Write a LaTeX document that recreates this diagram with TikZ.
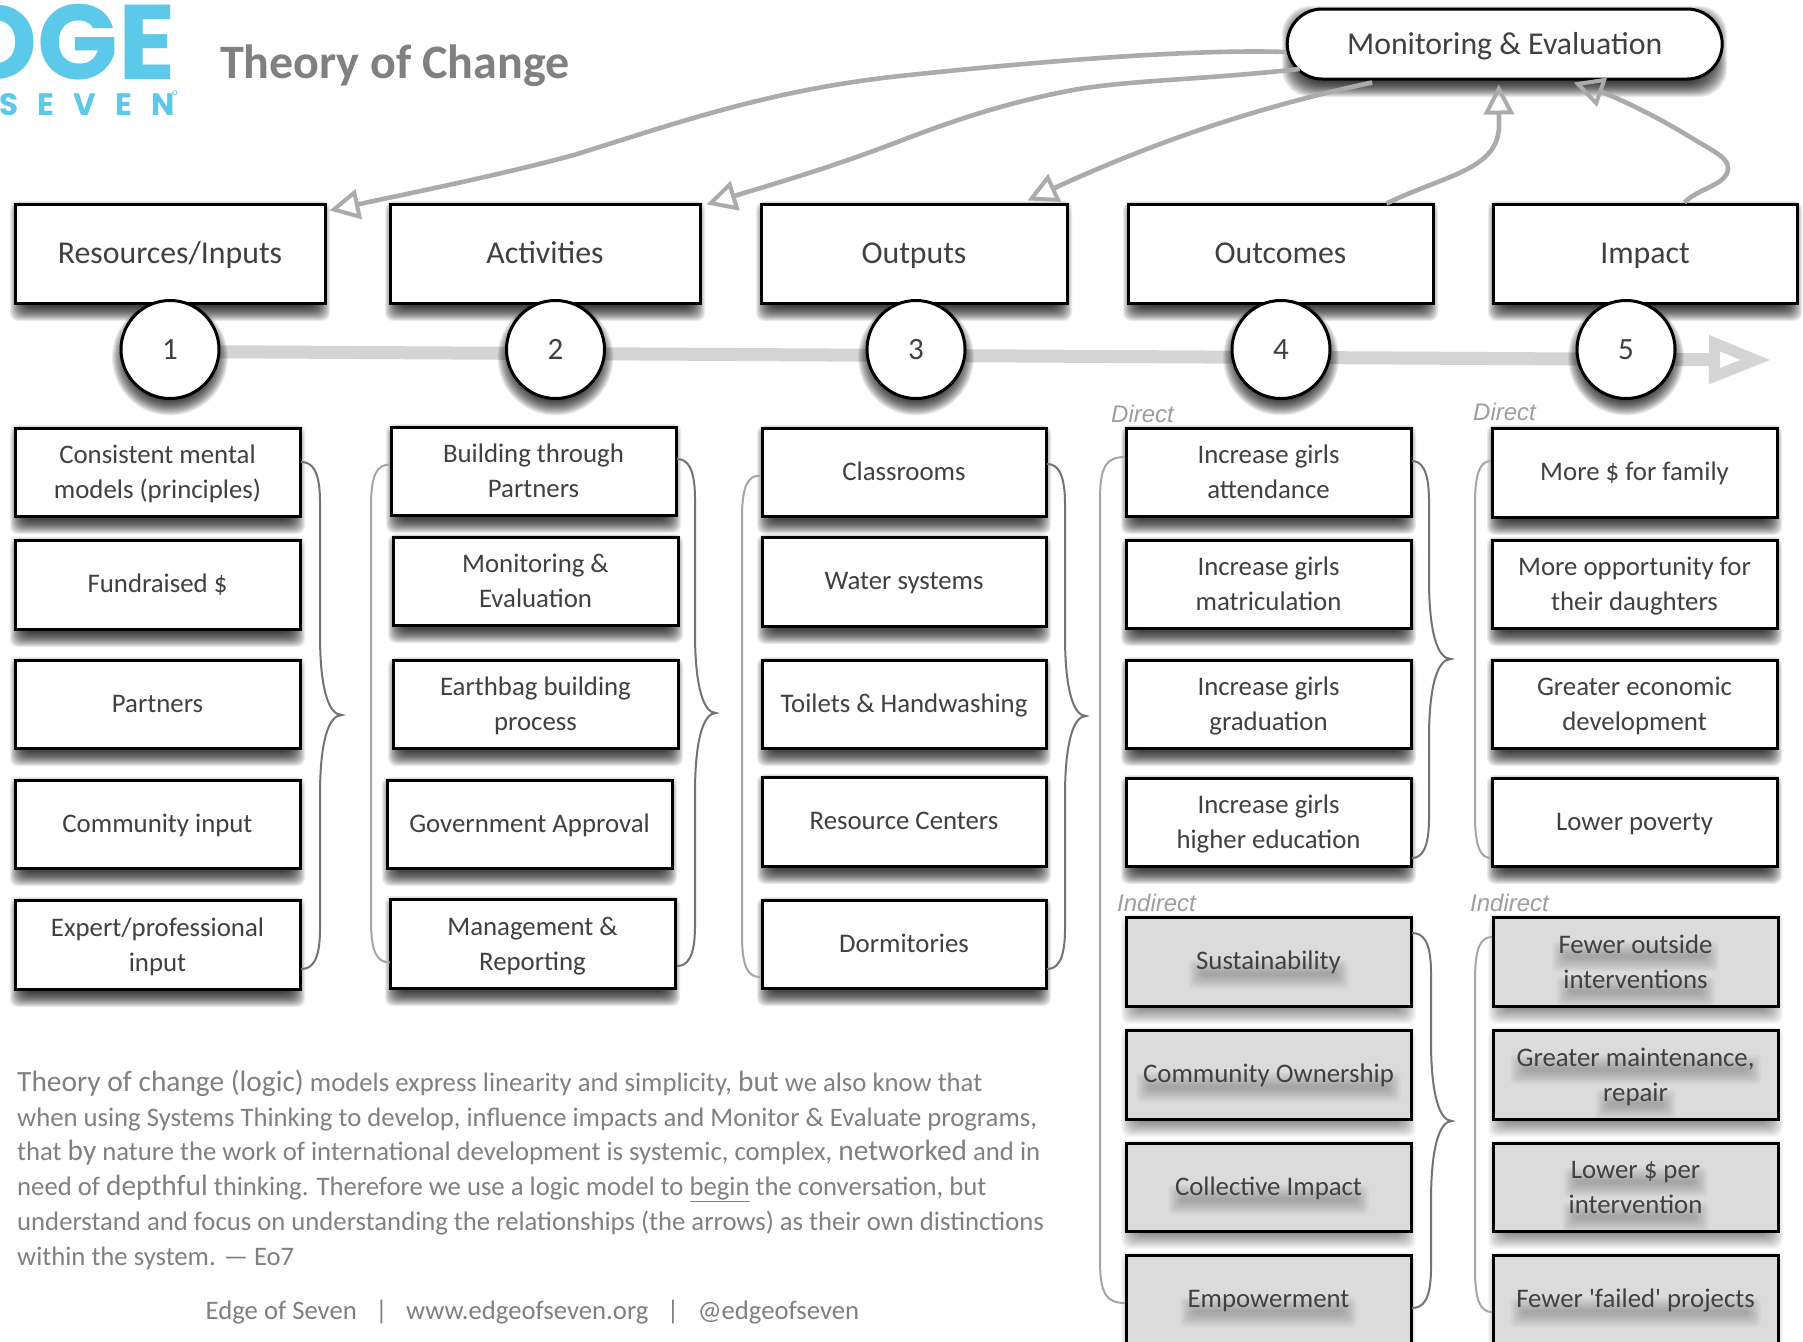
\documentclass[tikz,border=0pt]{standalone}
\usepackage{fontspec}
\setmainfont{Carlito}
\newfontfamily\plainq{Carlito}
\newfontfamily\logofont{Poppins}[Scale=1]
\newfontfamily\logospaced{Poppins}[LetterSpace=62]
\newfontfamily\helv{Liberation Sans}
\usetikzlibrary{calc,arrows.meta,shapes.misc}
\definecolor{inktext}{HTML}{404040}
\definecolor{parag}{HTML}{808080}
\definecolor{curvegray}{HTML}{ABABAB}
\definecolor{axisgray}{HTML}{D4D4D4}
\definecolor{cyanlogo}{HTML}{5CC9EA}
\newcommand{\strutA}{\rule[-10.4pt]{0pt}{37pt}}
\newcommand{\strutB}{\rule[-7pt]{0pt}{0pt}}
\newcommand{\strutT}{\rule[-9pt]{0pt}{38pt}}
\newcommand{\fl}{\rule{0pt}{28.4pt}}
\tikzset{
  x=1pt,y=-1pt,
  topbox/.style={draw=black,line width=3pt,fill=white,text=inktext,font=\fontsize{31.8}{35}\selectfont,align=center,inner sep=0pt,execute at begin node=\strutT},
  subbox/.style={draw=black,line width=3pt,fill=white,text=inktext,font=\fontsize{26.8}{35}\selectfont,align=center,inner sep=0pt,execute at begin node=\strutA,execute at end node=\strutB},
  graybox/.style={draw=black,line width=3pt,fill=black!14,inner sep=0pt},
  graytext/.style={text=inktext,font=\fontsize{26.8}{35}\selectfont,align=center,inner sep=0pt,execute at begin node=\strutA,execute at end node=\strutB},
  numcircle/.style={circle,draw=black,line width=3pt,fill=white,minimum size=98pt,inner sep=0pt,text=inktext,font=\fontsize{31}{35}\selectfont},
  pill/.style={rounded rectangle,draw=black,line width=3pt,fill=white,minimum width=435pt,minimum height=70pt,inner sep=0pt,text=inktext,font=\fontsize{31.8}{35}\selectfont,execute at begin node=\strutT},
  feedback/.style={draw=curvegray,line width=4.6pt,-{Triangle[open,length=30pt,width=30pt,line width=4pt]}},
  axisline/.style={draw=axisgray,line width=13pt,-{Triangle[open,length=62pt,width=46pt,line width=11pt]}},
  bracedark/.style={draw=black!55,line width=2pt},
  bracelight/.style={draw=black!35,line width=2pt},
  catlabel/.style={text=black!38,font=\helv\itshape\fontsize{24}{26}\selectfont,inner sep=0pt},
  footnote/.style={text=parag,inner sep=0pt,anchor=west},
}
% stacked translucent rectangles make a soft shadow: x1,y1,x2,y2,alpha
\newcommand{\boxshadow}[6][rounded corners=8pt]{%
  \foreach \r in {13,12,...,-2}{%
    \fill[black,fill opacity=#6,#1] (#2+8-\r,#3+10-\r) rectangle (#4-8+\r,#5+5+\r);}}
\newcommand{\circshadow}[2]{%
  \foreach \r in {14,13,...,-1}{%
    \fill[black,fill opacity=.075] (#1,#2+8) circle ({44+\r});}}
\newcommand{\bx}[7][subbox]{%
  \pgfmathsetmacro{\mymx}{(#3+#5)/2}\pgfmathsetmacro{\mymy}{(#4+#6)/2}%
  \pgfmathsetmacro{\myw}{#5-#3}\pgfmathsetmacro{\myh}{#6-#4}%
  \boxshadow{#3}{#4}{#5}{#6}{.08}%
  \node[#1,minimum width=\myw pt,minimum height=\myh pt] (#2) at (\mymx,\mymy) {#7};}
\newcommand{\gbase}[5]{%
  \pgfmathsetmacro{\mymx}{(#2+#4)/2}\pgfmathsetmacro{\mymy}{(#3+#5)/2}%
  \pgfmathsetmacro{\myw}{#4-#2}\pgfmathsetmacro{\myh}{#5-#3}%
  \boxshadow{#2}{#3}{#4}{#5}{.03}%
  \node[graybox,minimum width=\myw pt,minimum height=\myh pt] (#1) at (\mymx,\mymy) {};}
% soft blotch under one line of text: centre x, centre y, half width
\newcommand{\tblot}[3]{%
  \foreach \r in {8,6,4,2,0,-2,-4}{%
    \fill[black,fill opacity=.035,rounded corners=4pt] (#1-#3-\r,#2+6-\r) rectangle (#1+#3+\r,#2+19+\r);}}
\newcommand{\gbx}[7]{%
  \gbase{#1}{#2}{#3}{#4}{#5}%
  \pgfmathsetmacro{\tx}{\mymx}\pgfmathsetmacro{\ty}{\mymy}%
  \tblot{\tx}{\ty}{#7}%
  \node[graytext] (#1t) at (#1.center) {#6};}
\newcommand{\gbxx}[9]{%
  \gbase{#1}{#2}{#3}{#4}{#5}%
  \pgfmathsetmacro{\tx}{\mymx}\pgfmathsetmacro{\ty}{\mymy}%
  \tblot{\tx}{\ty-17.5}{#7}%
  \tblot{\tx}{\ty+17.5}{#9}%
  \node[graytext] (#1t) at (#1.center) {\fl #6\\#8};}
% right brace: top y, bottom y, tip y, start x, column x, tip x
\newcommand{\rbr}[6]{%
  \draw[bracedark] (#4,#1) .. controls (#5-8,#1) and (#5,#1+8) .. (#5,#1+40)
    -- (#5,#3-80) .. controls (#5,#3-28) and (#5+8,#3) .. (#6,#3)
    .. controls (#5+8,#3) and (#5,#3+28) .. (#5,#3+80)
    -- (#5,#2-40) .. controls (#5,#2-8) and (#5-8,#2) .. (#4,#2);}
% left bracket: top y, bottom y, end x, column x
\newcommand{\lbr}[4]{%
  \draw[bracelight] (#3,#1) .. controls (#4+6,#1) and (#4,#1+10) .. (#4,#1+42)
    -- (#4,#2-42) .. controls (#4,#2-10) and (#4+6,#2) .. (#3,#2);}
\newcommand{\bigw}[1]{{\fontsize{29.4}{34.8}\selectfont #1}}
\begin{document}
\begin{tikzpicture}
\useasboundingbox (0,0) rectangle (1803,1341);
\fill[white] (0,0) rectangle (1803,1341);
% logo
\begin{scope}
\clip (0,0) rectangle (400,130);
\node[anchor=east,inner sep=0pt,text=cyanlogo,font=\logofont\bfseries\fontsize{106}{110}\selectfont] (logoa) at (176,42) {DGE};
\node[anchor=west,inner sep=0pt,text=cyanlogo,font=\logospaced\bfseries\fontsize{31}{33}\selectfont] (logob) at (-1,105) {SEVEN};
\node[inner sep=0pt,text=cyanlogo,font=\logofont\fontsize{14}{15}\selectfont] (logoc) at (175,96) {°};
\end{scope}
\node[anchor=west,inner sep=0pt,text=parag,font=\bfseries\fontsize{48}{50}\selectfont] (title) at (220,65.5) {Theory of Change};
% monitoring pill
\boxshadow[rounded corners=28pt]{1287}{9}{1722}{79}{.08}
\node[pill] (me) at (1504.7,44) {Monitoring \& Evaluation};
% top boxes
\bx[topbox]{res}{15}{204}{325}{303}{Resources/Inputs}
\bx[topbox]{act}{390}{204}{700}{303}{Activities}
\bx[topbox]{out}{761}{204}{1067}{303}{Outputs}
\bx[topbox]{ocm}{1128}{204}{1433}{303}{Outcomes}
\bx[topbox]{imp}{1493}{204}{1797}{303}{Impact}
% feedback arrows
\draw[feedback] ($(me.west)+(0,8)$) .. controls (1200,49) and (1050,60) .. (900,76)
   .. controls (770,90) and (680,122) .. (574,155) .. controls (500,175) and (420,191) .. ($(res.north east)+(3,8)$);
\draw[feedback] ($(me.west)+(14,25)$) .. controls (1200,80) and (1130,80) .. (1073,90)
   .. controls (1010,102) and (960,118) .. (900,141) .. controls (830,168) and (770,185) .. ($(act.north east)+(5,2)$);
\draw[feedback] ($(me.south west)+(50,2)$) .. controls (1290,100) and (1180,130) .. ($(out.north east)+(-41,-2)$);
\draw[feedback] ($(ocm.north west)+(260,1)$) .. controls (1445,175) and (1499,170) .. (1499,125)
   -- ($(me.south)+(-6,4)$);
\draw[feedback] ($(imp.north west)+(193,0)$) .. controls (1698,188) and (1728,185) .. (1728,168)
   .. controls (1728,158) and (1715,152) .. (1695,140) .. controls (1650,112) and (1610,95) .. ($(me.south)+(69,2)$);
% timeline
\coordinate (axisend) at (1771,360);
\path (170,349.5) coordinate (c1s);
\draw[axisline] ($(c1s)+(0,2)$) -- (axisend);
\circshadow{170}{349.5}
\node[numcircle] (c1) at (170,349.5) {1};
\circshadow{555.5}{349.5}
\node[numcircle] (c2) at (555.5,349.5) {2};
\circshadow{916}{349.5}
\node[numcircle] (c3) at (916,349.5) {3};
\circshadow{1281}{349.5}
\node[numcircle] (c4) at (1281,349.5) {4};
\circshadow{1626}{349.5}
\node[numcircle] (c5) at (1626,349.5) {5};
% column 1
\bx{a1}{15}{428}{300}{516}{\fl Consistent mental\\models (principles)}
\bx{a2}{15}{540}{300}{629}{Fundraised \$}
\bx{a3}{15}{660}{300}{748}{Partners}
\bx{a4}{15}{780}{300}{868}{Community input}
\bx{a5}{15}{900}{300}{989}{\fl Expert/professional\\input}
% column 2
\bx{b1}{391}{427}{676}{515}{\fl Building through\\Partners}
\bx{b2}{393}{537}{678}{625}{\fl Monitoring \&\\Evaluation}
\bx{b3}{393}{660}{678}{748}{\fl Earthbag building\\process}
\bx{b4}{387}{780}{672}{868}{Government Approval}
\bx{b5}{390}{899}{675}{988}{\fl Management \&\\Reporting}
% column 3
\bx{d1}{762}{428}{1046}{516}{Classrooms}
\bx{d2}{762}{537}{1046}{626}{Water systems}
\bx{d3}{762}{660}{1046}{748}{Toilets \& Handwashing}
\bx{d4}{762}{777}{1046}{866}{Resource Centers}
\bx{d5}{762}{900}{1046}{988}{Dormitories}
% column 4
\bx{e1}{1126}{428}{1411}{516}{\fl Increase girls\\attendance}
\bx{e2}{1126}{540}{1411}{628}{\fl Increase girls\\matriculation}
\bx{e3}{1126}{660}{1411}{748}{\fl Increase girls\\graduation}
\bx{e4}{1126}{778}{1411}{866}{\fl Increase girls\\higher education}
\gbx{e5}{1126}{917}{1411}{1006}{Sustainability}{72}
\gbx{e6}{1126}{1030}{1411}{1119}{Community Ownership}{124}
\gbx{e7}{1126}{1143}{1411}{1231}{Collective Impact}{92}
\gbx{e8}{1126}{1255}{1411}{1344}{Empowerment}{80}
% column 5
\bx{f1}{1492}{428}{1777}{517}{More \$ for family}
\bx{f2}{1492}{540}{1777}{628}{\fl More opportunity for\\their daughters}
\bx{f3}{1492}{660}{1777}{748}{\fl Greater economic\\development}
\bx{f4}{1492}{778}{1777}{866}{Lower poverty}
\gbxx{f5}{1493}{917}{1778}{1006}{Fewer outside}{75}{interventions}{71}
\gbxx{f6}{1493}{1030}{1778}{1119}{Greater maintenance,}{117}{repair}{32}
\gbxx{f7}{1493}{1143}{1778}{1231}{Lower \$ per}{64}{intervention}{65}
\gbx{f8}{1493}{1255}{1778}{1344}{Fewer {\plainq 'failed'} projects}{117}
% braces
\rbr{462}{969}{715}{301}{320}{342}
\lbr{464.5}{962.5}{390}{371}
\rbr{459}{966}{713}{677}{695}{716}
\lbr{475.6}{977}{760}{742}
\rbr{464}{969}{716}{1047}{1065}{1086}
\lbr{457}{1303}{1125}{1100}
\rbr{461}{858}{659}{1412}{1429}{1451}
\lbr{461}{858}{1491}{1475}
\rbr{933}{1308}{1121}{1412}{1431}{1452}
\lbr{937}{1312}{1492}{1475}
% category labels
\node[catlabel,anchor=west] (l1) at (1111,414) {Direct};
\node[catlabel,anchor=west] (l2) at (1473,412) {Direct};
\node[catlabel,anchor=west] (l3) at (1117,903) {Indirect};
\node[catlabel,anchor=west] (l4) at (1470,903) {Indirect};
% paragraph
\node[footnote,align=left,anchor=north west,font=\fontsize{26.7}{34.8}\selectfont] (para) at (17,1069.5) {%
\bigw{Theory of change (logic)} models express linearity and simplicity, \bigw{but} we also know that\\
when using Systems Thinking to develop, influence impacts and Monitor \& Evaluate programs,\\
that \bigw{by} nature the work of international development is systemic, complex, \bigw{networked} and in\\
need of \bigw{depthful} thinking. Therefore we use a logic model to \underline{begin} the conversation, but\\
understand and focus on understanding the relationships (the arrows) as their own distinctions\\
within the system. — Eo7};
\node[footnote,font=\fontsize{26.7}{30}\selectfont] (foot) at (205.5,1312) {Edge of Seven\hspace{18.5pt}|\hspace{18.5pt}www.edgeofseven.org\hspace{18.5pt}|\hspace{18.5pt}@edgeofseven};
\end{tikzpicture}
\end{document}
